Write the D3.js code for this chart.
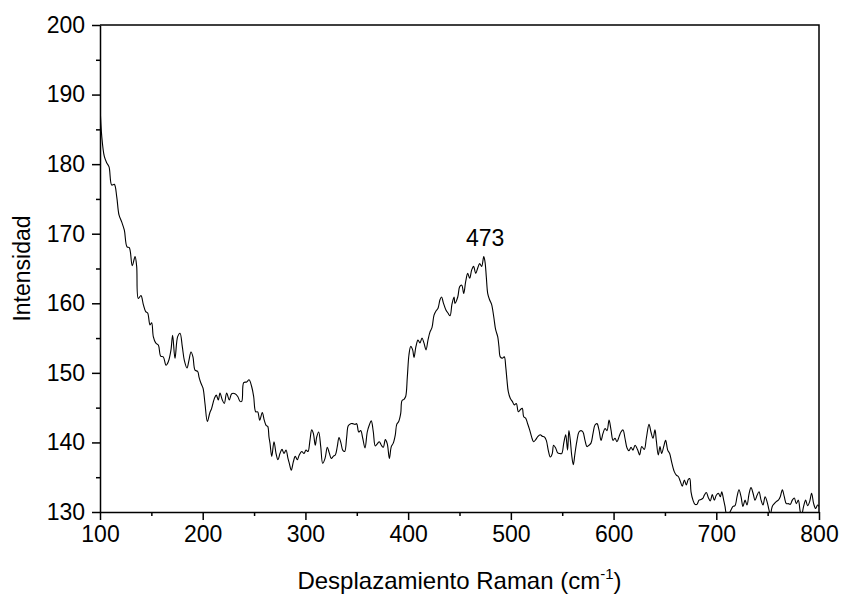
<!DOCTYPE html>
<html>
<head>
    <meta charset="utf-8">
    <title>Raman</title>
    <script type="text/javascript" src="https://cdnjs.cloudflare.com/ajax/libs/d3/7.8.5/d3.min.js"></script>
    <style>
        body { margin: 0; background: #fff; }
        text { font-family: Arial, "Liberation Sans", sans-serif; fill: #000; }
        .axis path, .axis line { stroke: #000; stroke-width: 1.5; }
    </style>
</head>

<body>

<script type="text/javascript">

    // Raman shift (cm-1)
    var shift = [
        100, 101.7, 104.2, 106.5, 108.8, 111.4, 113.9, 116.3, 118.5, 121.1, 123.7, 126.3, 128.5, 131.4, 134.1, 135.7,
        137.3, 139.9, 142.2, 144.5, 146.4, 148.7, 150.3, 151.9, 154.2, 156.8, 159.1, 161.6, 164.3, 166.5, 169.1, 170.7,
        173.0, 175.6, 177.9, 180.1, 182.1, 184.7, 186.6, 188.6, 190.5, 192.5, 195.1, 196.4, 198.3, 200.3, 202.2, 204.5,
        206.8, 208.7, 211.3, 213.2, 215.2, 216.8, 219.1, 221.0, 223.3, 225.9, 228.2, 231.4, 234.1, 236.3, 238.0, 239.9,
        242.8, 245.1, 247.7, 249.6, 251.6, 253.5, 255.5, 258.0, 259.9, 261.9, 263.3, 264.5,
        265.5, 267.2, 269.4, 271.4, 273.3, 275.2, 277.2, 279.1, 281.1, 283.0, 284.3, 286.2, 288.2, 290.1, 292.1, 294.0,
        296.4, 298.6, 300.6, 302.5, 304.4, 306.1, 307.7, 309.6, 311.0, 312.9, 314.9, 316.8, 319.1, 321.3, 323.2, 325.2,
        327.1, 329.1, 331.0, 332.7, 334.6, 336.3, 338.2, 340.2, 341.7, 344.1, 346.0, 348.3, 349.9, 351.9, 353.8, 355.8,
        358.0, 360.2, 362.2, 364.1, 366.1, 368.0, 370.0, 371.9, 373.9, 375.8, 377.8, 379.7, 381.7, 383.6, 385.5, 387.5,
        388.9, 390.8, 392.8, 394.0, 396.0, 397.6, 399.2, 400.8, 402.5, 404.4, 405.7, 407.6, 409.6, 411.5, 413.5, 415.4,
        417.4, 419.3, 421.3, 423.2, 425.2, 427.1, 429.1, 431.0, 432.6, 434.2, 436.9, 438.8, 440.8, 442.7, 444.7,
        445.6, 448.3, 450.2, 452.2, 454.1, 456.0, 458.0, 459.9, 461.9, 463.7, 465.8, 467.6, 469.6, 471.6, 473.6, 474.8,
        476.1, 477.5, 479.3, 481.3, 483.3, 485.2, 487.2, 488.4, 489.7, 491.7, 493.6, 495.0, 496.2, 497.5, 499.5, 501.4,
        503.4, 505.3, 507.3, 509.2, 511.1, 512.5, 514.4, 516.3, 518.3, 520.2, 522.1, 524.2, 526.0, 528.6, 530.5, 532.6,
        534.5, 536.4, 538.4, 540.3, 541.6, 543.6, 545.6, 547.6, 549.5, 551.5, 553.4, 555.2, 556.5, 557.9, 559.2, 560.8,
        562.4, 564.4, 566.3, 568.3, 570.2, 572.2, 574.1, 576.1, 578.0, 580.0, 581.9, 583.9, 585.8, 587.8, 589.7, 591.7,
        593.6, 595.6, 597.5, 599.5, 601.4, 603.3, 605.3, 607.2, 609.2, 611.1, 613.1, 615.0, 617.0, 618.9,
        620.9, 623.5, 625.4, 627.4, 629.9, 631.9, 634.5, 636.4, 638.4, 640.3, 641.6, 643.5, 645.2, 646.8, 648.8, 650.7,
        652.7, 654.6, 656.5, 659.1, 661.1, 663.0, 665.0, 666.9, 668.9, 670.8, 672.8, 674.1, 675.4, 677.3, 679.3, 681.2,
        683.2, 685.1, 687.1, 688.3, 690.3, 692.2, 694.2, 696.1, 698.1, 700.0, 702.0, 703.9, 705.3, 707.2, 708.5, 709.8,
        711.7, 714.3, 716.3, 718.2, 720.2, 722.1, 724.1, 726.0, 728.0, 729.9, 731.9, 733.8, 735.8, 737.7, 739.7, 741.6,
        743.6, 745.5, 747.5, 749.4, 751.3, 752.6, 754.5, 756.5, 758.4, 760.4, 762.3, 764.3, 766.2, 768.2, 770.1, 772.1,
        774.0, 776.0, 777.9, 779.9, 781.8, 783.1, 785.0, 787.0, 788.9, 790.9, 792.8, 794.8, 796.7, 798.7, 800
    ];

    // intensity at each shift
    var intensity = [
        188.5, 184.0, 181.1, 180.2, 179.6, 177.0, 177.1, 175.3, 172.7, 171.7, 170.5, 168.1, 168.0, 165.4, 166.7, 165.3,
        160.7, 161.1, 159.8, 158.8, 158.6, 156.9, 157.2, 155.2, 154.3, 154.0, 152.4, 152.3, 151.1, 151.6, 153.3, 155.4,
        152.1, 155.2, 155.7, 153.8, 151.8, 150.7, 151.8, 153.0, 152.3, 150.4, 150.2, 149.4, 148.5, 147.8, 145.6, 143.0,
        144.2, 144.9, 146.3, 146.8, 146.1, 147.1, 146.1, 145.6, 147.1, 146.1, 147.0, 147.0, 146.6, 145.9, 145.9, 148.6,
        148.7, 149.0, 148.0, 146.6, 144.4, 144.4, 143.2, 144.3, 143.2, 142.4, 142.3, 140.8,
        139.9, 138.0, 140.1, 138.4, 137.5, 138.4, 139.0, 138.4, 138.9, 137.7, 137.0, 136.0, 137.2, 138.0, 137.5, 138.2,
        138.7, 138.4, 138.9, 138.7, 140.3, 141.8, 141.3, 139.6, 140.8, 141.5, 139.4, 137.0, 137.7, 139.3, 138.5, 137.7,
        138.0, 138.2, 139.4, 140.7, 139.9, 138.9, 138.7, 140.8, 142.4, 142.7, 142.7, 142.6, 142.7, 141.5, 141.7, 140.6,
        139.2, 141.5, 142.5, 143.1, 141.5, 139.5, 139.8, 140.1, 139.6, 139.3, 140.4, 139.8, 137.7, 139.4, 139.9, 141.1,
        142.6, 143.0, 144.2, 146.0, 146.2, 146.6, 149.4, 152.6, 153.8, 153.3, 152.2, 153.8, 154.7, 154.3, 155.0, 154.3,
        153.3, 154.7, 155.9, 156.5, 158.3, 158.9, 159.3, 160.5, 160.9, 160.1, 159.0, 158.6, 158.2, 159.9, 160.9,
        160.0, 160.9, 162.4, 162.6, 161.4, 163.1, 164.3, 163.6, 164.8, 165.3, 164.3, 165.0, 165.7, 165.3, 166.7, 166.0,
        163.8, 161.4, 160.5, 159.8, 158.1, 156.2, 155.2, 153.8, 152.3, 152.1, 152.3, 150.9, 149.0, 147.3, 146.3, 145.9,
        145.4, 145.6, 144.4, 144.7, 144.9, 143.7, 143.5, 142.7, 141.8, 140.8, 140.1, 140.4, 140.8, 141.1, 140.9, 140.8,
        140.3, 138.9, 137.9, 138.4, 139.6, 139.2, 138.5, 138.4, 138.4, 139.9, 141.1, 138.9, 141.7, 140.3, 138.2, 136.8,
        138.4, 140.3, 141.5, 141.7, 141.5, 140.3, 139.4, 139.6, 139.9, 141.3, 142.5, 142.7, 141.8, 140.3, 141.3, 142.0,
        141.7, 143.2, 141.8, 140.3, 140.6, 140.1, 140.8, 141.5, 141.8, 140.6, 139.2, 138.8, 139.3, 138.9,
        139.6, 138.9, 138.2, 139.4, 139.0, 140.6, 142.6, 141.5, 140.6, 141.8, 140.3, 138.2, 139.4, 138.4, 139.4, 140.3,
        138.9, 138.4, 137.2, 135.8, 135.3, 135.1, 134.4, 133.7, 134.6, 133.9, 134.7, 134.8, 132.9, 131.7, 131.1, 131.1,
        131.7, 131.8, 132.0, 132.4, 132.8, 132.1, 131.6, 132.5, 131.7, 132.4, 132.7, 132.2, 132.9, 131.7, 130.8, 129.8,
        129.6, 130.3, 130.8, 130.9, 132.2, 133.2, 132.2, 130.8, 131.7, 131.0, 132.6, 133.5, 132.7, 131.7, 132.4, 132.9,
        131.7, 131.0, 132.2, 131.5, 130.3, 129.6, 130.8, 131.2, 131.5, 131.7, 132.2, 133.2, 132.2, 131.2, 131.2, 131.1,
        131.7, 132.0, 131.2, 131.7, 130.0, 129.6, 130.8, 131.7, 130.9, 131.5, 132.7, 131.2, 130.5, 131.0, 130.8
    ];

    var xTicks = [100, 200, 300, 400, 500, 600, 700, 800],
        yTicks = [130, 140, 150, 160, 170, 180, 190, 200],
        peakLabel = "473",
        peakShift = 473;

    var width = 844,
        height = 603,
        plotLeft = 100, plotRight = 819,
        plotTop = 25, plotBottom = 512;

    var x = d3.scaleLinear()
            .domain([100, 800])
            .range([plotLeft, plotRight]),

        y = d3.scaleLinear()
            .domain([130, 200])
            .range([plotBottom, plotTop]);

    var data = shift.map(function(s, i){
        return {x: s, y: intensity[i]};
    });

    var svg = d3.select("body").append("svg")
        .attr("width", width)
        .attr("height", height);

    svg.append("clipPath")
        .attr("id", "plot")
        .append("rect")
        .attr("x", plotLeft)
        .attr("y", plotTop)
        .attr("width", plotRight - plotLeft)
        .attr("height", plotBottom - plotTop);

    var line = d3.line()
        .curve(d3.curveCatmullRom.alpha(0.5))
        .x(function(d){ return x(d.x); })
        .y(function(d){ return y(d.y); });

    svg.append("path")
        .datum(data)
        .attr("clip-path", "url(#plot)")
        .attr("fill", "none")
        .attr("stroke", "#000")
        .attr("stroke-width", 1.1)
        .attr("d", line);

    renderAxes(svg);

    // peak label, above the highest point near the labelled band
    var peak = data.filter(function(d){ return Math.abs(d.x - peakShift) < 30; })
        .reduce(function(a, b){ return b.y > a.y ? b : a; });
    svg.append("text")
        .attr("x", x(peakShift) + 2)
        .attr("y", y(peak.y) - 11)
        .attr("text-anchor", "middle")
        .style("font-size", "23px")
        .text(peakLabel);

    function renderAxes(svg){
        // minor ticks first
        svg.append("g")
            .attr("class", "axis")
            .attr("transform", "translate(0," + plotBottom + ")")
            .call(d3.axisBottom(x).tickValues(d3.range(150, 800, 100)).tickSize(4).tickFormat(""))
            .select(".domain").remove();

        svg.append("g")
            .attr("class", "axis")
            .attr("transform", "translate(" + plotLeft + ",0)")
            .call(d3.axisLeft(y).tickValues(d3.range(135, 200, 10)).tickSize(4).tickFormat(""))
            .select(".domain").remove();

        var xAxis = svg.append("g")
            .attr("class", "axis")
            .attr("transform", "translate(0," + plotBottom + ")")
            .call(d3.axisBottom(x).tickValues(xTicks).tickSize(8).tickSizeOuter(0).tickPadding(6));
        xAxis.selectAll("text").style("font-size", "23px");

        var yAxis = svg.append("g")
            .attr("class", "axis")
            .attr("transform", "translate(" + plotLeft + ",0)")
            .call(d3.axisLeft(y).tickValues(yTicks).tickSize(8).tickSizeOuter(0).tickPadding(7));
        yAxis.selectAll("text").style("font-size", "23px");

        // top and right frame
        svg.append("path")
            .attr("d", "M" + plotLeft + "," + plotTop + "H" + plotRight + "V" + plotBottom)
            .attr("fill", "none")
            .attr("stroke", "#000")
            .attr("stroke-width", 1.5);

        var xt = svg.append("text")
            .attr("x", (plotLeft + plotRight) / 2)
            .attr("y", 589)
            .attr("text-anchor", "middle")
            .style("font-size", "24px");
        xt.append("tspan").text("Desplazamiento Raman (cm");
        xt.append("tspan").attr("dy", -10).style("font-size", "15px").text("-1");
        xt.append("tspan").attr("dy", 10).text(")");

        svg.append("text")
            .attr("transform", "translate(30," + ((plotTop + plotBottom) / 2) + ") rotate(-90)")
            .attr("text-anchor", "middle")
            .style("font-size", "23px")
            .text("Intensidad");
    }
</script>

</body>

</html>
